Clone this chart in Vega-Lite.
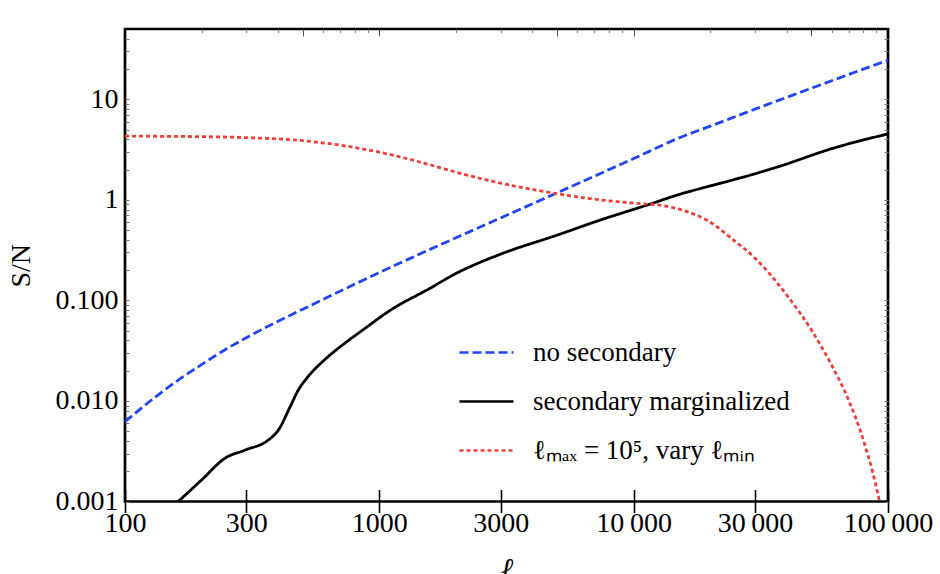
{
  "$schema": "https://vega.github.io/schema/vega-lite/v6.json",
  "width": 763,
  "height": 472.5,
  "autosize": {"type": "none"},
  "padding": {"left": 125, "top": 29, "right": 52, "bottom": 72.5},
  "background": "white",
  "config": {
    "view": {"stroke": "black", "strokeWidth": 2.7},
    "axis": {
      "grid": false,
      "domain": false,
      "labelFont": "Liberation Serif",
      "labelFontSize": 28,
      "labelColor": "black",
      "titleFont": "Liberation Serif",
      "titleFontSize": 28,
      "titleFontWeight": "normal",
      "titleColor": "black"
    }
  },
  "data": {
    "values": [
      {"s": "a", "l": 100, "v": 0.00621},
      {"s": "a", "l": 130, "v": 0.01069},
      {"s": "a", "l": 160, "v": 0.01577},
      {"s": "a", "l": 200, "v": 0.0230},
      {"s": "a", "l": 250, "v": 0.0328},
      {"s": "a", "l": 300, "v": 0.0426},
      {"s": "a", "l": 400, "v": 0.0620},
      {"s": "a", "l": 500, "v": 0.0816},
      {"s": "a", "l": 700, "v": 0.1232},
      {"s": "a", "l": 1000, "v": 0.1889},
      {"s": "a", "l": 1500, "v": 0.3028},
      {"s": "a", "l": 2000, "v": 0.4191},
      {"s": "a", "l": 3000, "v": 0.661},
      {"s": "a", "l": 5000, "v": 1.174},
      {"s": "a", "l": 7000, "v": 1.717},
      {"s": "a", "l": 10000, "v": 2.574},
      {"s": "a", "l": 15000, "v": 4.106},
      {"s": "a", "l": 20000, "v": 5.402},
      {"s": "a", "l": 30000, "v": 7.973},
      {"s": "a", "l": 50000, "v": 12.89},
      {"s": "a", "l": 70000, "v": 17.64},
      {"s": "a", "l": 100000, "v": 24.47},
      {"s": "b", "l": 162, "v": 0.001},
      {"s": "b", "l": 200, "v": 0.001636},
      {"s": "b", "l": 247, "v": 0.002688},
      {"s": "b", "l": 297, "v": 0.003251},
      {"s": "b", "l": 366, "v": 0.004086},
      {"s": "b", "l": 401, "v": 0.005136},
      {"s": "b", "l": 446, "v": 0.008757},
      {"s": "b", "l": 480, "v": 0.01283},
      {"s": "b", "l": 518, "v": 0.01678},
      {"s": "b", "l": 621, "v": 0.0268},
      {"s": "b", "l": 701, "v": 0.0345},
      {"s": "b", "l": 865, "v": 0.0512},
      {"s": "b", "l": 1102, "v": 0.0795},
      {"s": "b", "l": 1582, "v": 0.1320},
      {"s": "b", "l": 2000, "v": 0.1850},
      {"s": "b", "l": 3000, "v": 0.2886},
      {"s": "b", "l": 5000, "v": 0.4457},
      {"s": "b", "l": 7378, "v": 0.6284},
      {"s": "b", "l": 11600, "v": 0.9065},
      {"s": "b", "l": 15221, "v": 1.139},
      {"s": "b", "l": 20000, "v": 1.374},
      {"s": "b", "l": 30000, "v": 1.817},
      {"s": "b", "l": 37640, "v": 2.163},
      {"s": "b", "l": 59190, "v": 3.191},
      {"s": "b", "l": 100000, "v": 4.529},
      {"s": "c", "l": 100, "v": 4.30},
      {"s": "c", "l": 200, "v": 4.25},
      {"s": "c", "l": 300, "v": 4.153},
      {"s": "c", "l": 500, "v": 3.877},
      {"s": "c", "l": 700, "v": 3.498},
      {"s": "c", "l": 1000, "v": 2.980},
      {"s": "c", "l": 1500, "v": 2.317},
      {"s": "c", "l": 2000, "v": 1.885},
      {"s": "c", "l": 3000, "v": 1.466},
      {"s": "c", "l": 5000, "v": 1.152},
      {"s": "c", "l": 7000, "v": 1.016},
      {"s": "c", "l": 10000, "v": 0.927},
      {"s": "c", "l": 13000, "v": 0.876},
      {"s": "c", "l": 16000, "v": 0.772},
      {"s": "c", "l": 20000, "v": 0.600},
      {"s": "c", "l": 25000, "v": 0.3886},
      {"s": "c", "l": 30000, "v": 0.2633},
      {"s": "c", "l": 40000, "v": 0.1129},
      {"s": "c", "l": 50000, "v": 0.0507},
      {"s": "c", "l": 60000, "v": 0.02275},
      {"s": "c", "l": 70000, "v": 0.01021},
      {"s": "c", "l": 80000, "v": 0.004086},
      {"s": "c", "l": 87000, "v": 0.001965},
      {"s": "c", "l": 92600, "v": 0.001}
    ]
  },
  "layer": [
    {
      "mark": {"type": "line", "strokeWidth": 2.8, "interpolate": "monotone"},
      "encoding": {
        "x": {
          "field": "l", "type": "quantitative",
          "scale": {"type": "log", "domain": [100, 100000], "nice": false},
          "axis": {
            "orient": "bottom",
            "values": [100, 300, 1000, 3000, 10000, 30000, 100000],
            "format": "d",
            "ticks": false,
            "labelPadding": 8,
            "labelFlush": false,
            "labelOverlap": false,
            "labelBound": false,
            "labelExpr": "datum.value == 10000 ? '10\u2009000' : datum.value == 30000 ? '30\u2009000' : datum.value == 100000 ? '100\u2009000' : datum.label",
            "title": "ℓ",
            "titleFontStyle": "italic",
            "titleFontSize": 30,
            "titlePadding": 17
          }
        },
        "y": {
          "field": "v", "type": "quantitative",
          "scale": {"type": "log", "domain": [0.001, 50], "nice": false},
          "axis": {
            "orient": "left",
            "values": [0.001, 0.01, 0.1, 1, 10],
            "ticks": false,
            "labelPadding": 7,
            "labelFlush": false,
            "labelOverlap": false,
            "labelExpr": "datum.value == 0.001 ? '0.001' : datum.value == 0.01 ? '0.010' : datum.value == 0.1 ? '0.100' : datum.value == 1 ? '1' : '10'",
            "title": "S/N",
            "titlePadding": 20
          }
        },
        "color": {
          "field": "s", "type": "nominal",
          "scale": {"domain": ["a", "b", "c"], "range": ["#2244f5", "#000000", "#f03e3a"]},
          "legend": {
            "orient": "none", "legendX": 333, "legendY": 295, "title": null,
            "symbolType": "stroke", "symbolSize": 2916, "symbolStrokeWidth": 2.6,
            "labelFont": "Liberation Serif", "labelFontSize": 27, "labelColor": "black",
            "labelOffset": 18, "rowPadding": 7, "labelLimit": 0, "padding": 0,
            "labelExpr": "datum.value == 'a' ? 'no secondary' : datum.value == 'b' ? 'secondary marginalized' : 'ℓₘₐₓ = 10⁵,  vary ℓₘᵢₙ'"
          }
        },
        "strokeDash": {
          "field": "s", "type": "nominal",
          "scale": {"domain": ["a", "b", "c"], "range": [[9, 4], [1, 0], [4, 3]]},
          "legend": {
            "orient": "none", "legendX": 333, "legendY": 295, "title": null,
            "symbolType": "stroke", "symbolSize": 2916, "symbolStrokeWidth": 2.6,
            "labelFont": "Liberation Serif", "labelFontSize": 27, "labelColor": "black",
            "labelOffset": 18, "rowPadding": 7, "labelLimit": 0, "padding": 0,
            "labelExpr": "datum.value == 'a' ? 'no secondary' : datum.value == 'b' ? 'secondary marginalized' : 'ℓₘₐₓ = 10⁵,  vary ℓₘᵢₙ'"
          }
        }
      }
    },
    {
      "mark": {"type": "line", "opacity": 0},
      "encoding": {
        "x": {
          "field": "l", "type": "quantitative",
          "scale": {"type": "log", "domain": [100, 100000], "nice": false},
          "axis": {"orient": "bottom", "values": [100, 300, 1000, 3000, 10000, 30000, 100000], "labels": false, "ticks": true, "tickSize": 11, "tickWidth": 1.6, "tickColor": "black", "title": null}
        },
        "y": {
          "field": "v", "type": "quantitative",
          "scale": {"type": "log", "domain": [0.001, 50], "nice": false},
          "axis": {"orient": "left", "values": [0.001, 0.002, 0.003, 0.004, 0.005, 0.006, 0.007, 0.008, 0.009, 0.01, 0.02, 0.03, 0.04, 0.05, 0.06, 0.07, 0.08, 0.09, 0.1, 0.2, 0.3, 0.4, 0.5, 0.6, 0.7, 0.8, 0.9, 1, 2, 3, 4, 5, 6, 7, 8, 9, 10, 20, 30, 40], "labels": false, "ticks": true, "tickSize": -4, "tickWidth": 1, "tickColor": "#777777", "title": null}
        }
      }
    },
    {
      "mark": {"type": "line", "opacity": 0},
      "encoding": {
        "x": {
          "field": "l", "type": "quantitative",
          "scale": {"type": "log", "domain": [100, 100000], "nice": false},
          "axis": {"orient": "bottom", "values": [100, 300, 1000, 3000, 10000, 30000, 100000], "labels": false, "ticks": true, "tickSize": -12, "tickWidth": 1.6, "tickColor": "black", "title": null}
        },
        "y": {
          "field": "v", "type": "quantitative",
          "scale": {"type": "log", "domain": [0.001, 50], "nice": false},
          "axis": {"orient": "right", "values": [0.001, 0.002, 0.003, 0.004, 0.005, 0.006, 0.007, 0.008, 0.009, 0.01, 0.02, 0.03, 0.04, 0.05, 0.06, 0.07, 0.08, 0.09, 0.1, 0.2, 0.3, 0.4, 0.5, 0.6, 0.7, 0.8, 0.9, 1, 2, 3, 4, 5, 6, 7, 8, 9, 10, 20, 30, 40], "labels": false, "ticks": true, "tickSize": -4, "tickWidth": 1, "tickColor": "#777777", "title": null}
        }
      }
    },
    {
      "mark": {"type": "line", "opacity": 0},
      "encoding": {
        "x": {
          "field": "l", "type": "quantitative",
          "scale": {"type": "log", "domain": [100, 100000], "nice": false},
          "axis": {"orient": "top", "values": [500, 1000, 5000, 10000, 50000], "labels": false, "ticks": true, "tickSize": -7, "tickWidth": 1, "tickColor": "#555555", "title": null}
        },
        "y": {"field": "v", "type": "quantitative", "axis": null}
      }
    },
    {
      "mark": {"type": "line", "opacity": 0},
      "encoding": {
        "x": {
          "field": "l", "type": "quantitative",
          "scale": {"type": "log", "domain": [100, 100000], "nice": false},
          "axis": {"orient": "top", "values": [200, 300, 400, 600, 700, 800, 900, 2000, 3000, 4000, 6000, 7000, 8000, 9000, 20000, 30000, 40000, 60000, 70000, 80000, 90000], "labels": false, "ticks": true, "tickSize": -3.5, "tickWidth": 1, "tickColor": "#888888", "title": null}
        },
        "y": {"field": "v", "type": "quantitative", "axis": null}
      }
    }
  ],
  "resolve": {"axis": {"x": "independent", "y": "independent"}}
}
